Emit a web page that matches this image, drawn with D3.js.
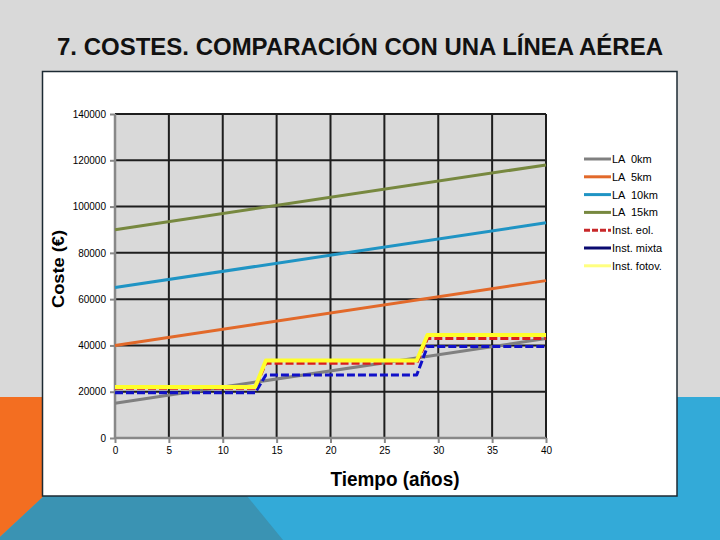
<!DOCTYPE html>
<html><head><meta charset="utf-8">
<script src="https://cdn.jsdelivr.net/npm/d3@7"></script>
<style>body{margin:0;background:#d9d9d9}svg{display:block}</style>
</head><body>
<svg id="c" width="720" height="540"></svg>
<script>
// ---- data ----
const laYears = [0, 40];
const la0km = [15000, 43000];
const la5km = [40000, 68000];
const la10km = [65000, 93000];
const la15km = [90000, 118000];
const instYears = [0, 13, 14, 28, 29, 40];
const instEol = [21500, 21500, 32300, 32300, 43000, 43000];
const instMixta = [19500, 19500, 27200, 27200, 39500, 39500];
const instFotov = [22000, 22000, 33500, 33500, 44500, 44500];
const xTicks = [0, 5, 10, 15, 20, 25, 30, 35, 40];
const yTicks = [0, 20000, 40000, 60000, 80000, 100000, 120000, 140000];
const seriesNames = ["LA  0km", "LA  5km", "LA  10km", "LA  15km", "Inst. eol.", "Inst. mixta", "Inst. fotov."];
const titleText = "7. COSTES. COMPARACIÓN CON UNA LÍNEA AÉREA";
const xTitle = "Tiempo (años)";
const yTitle = "Coste (€)";

const series = [
  {name: seriesNames[0], xs: laYears, ys: la0km, color: "#808080", w: 3, dash: null, lc: "#808080", ldash: null},
  {name: seriesNames[1], xs: laYears, ys: la5km, color: "#e2692a", w: 3, dash: null, lc: "#e2692a", ldash: null},
  {name: seriesNames[2], xs: laYears, ys: la10km, color: "#1f94c4", w: 3, dash: null, lc: "#1f94c4", ldash: null},
  {name: seriesNames[3], xs: laYears, ys: la15km, color: "#77883f", w: 3, dash: null, lc: "#77883f", ldash: null},
  {name: seriesNames[4], xs: instYears, ys: instEol, color: "#d91e1e", w: 3, dash: "8,3", lc: "#c8282a", ldash: "6,2"},
  {name: seriesNames[5], xs: instYears, ys: instMixta, color: "#1010c8", w: 3, dash: "8,3", lc: "#0a0a70", ldash: null},
  {name: seriesNames[6], xs: instYears, ys: instFotov, color: "#ffff2a", w: 4, dash: null, lc: "#ffff80", ldash: null}
];

const svg = d3.select("#c");
// ---- slide background ----
svg.append("rect").attr("x",0).attr("y",0).attr("width",720).attr("height",540).attr("fill","#d9d9d9");
svg.append("rect").attr("x",0).attr("y",397).attr("width",720).attr("height",143).attr("fill","#33aad8");
svg.append("polygon").attr("points","0,397 44,397 44,496 0,537").attr("fill","#f36e21");
svg.append("polygon").attr("points","44,496 247,496 283,540 0,540 0,537").attr("fill","#3a93b3");

// title
svg.append("text").attr("x",360).attr("y",55).attr("text-anchor","middle")
  .attr("font-family","'Liberation Sans Narrow','Arial Narrow',sans-serif").attr("font-size",23)
  .attr("font-weight","bold").attr("fill","#111")
  .attr("textLength",606).attr("lengthAdjust","spacingAndGlyphs").text(titleText);

// chart box
svg.append("rect").attr("x",42.5).attr("y",71.5).attr("width",634.5).attr("height",424.5)
  .attr("fill","#fff").attr("stroke","#1c2a33").attr("stroke-width",1.5);

const x = d3.scaleLinear().domain([0,40]).range([115,546]);
const y = d3.scaleLinear().domain([0,140000]).range([438,114]);

// plot area
svg.append("rect").attr("x",x(0)).attr("y",y(140000)).attr("width",x(40)-x(0)).attr("height",y(0)-y(140000)).attr("fill","#d9d9d9");

// grid
const g = svg.append("g");
g.selectAll(".hg").data(yTicks.filter(d=>d>0)).join("line")
  .attr("x1",x(0)).attr("x2",x(40)).attr("y1",d=>y(d)).attr("y2",d=>y(d))
  .attr("stroke","#1e1e1e").attr("stroke-width",2);
g.selectAll(".vg").data(xTicks.filter(d=>d>0)).join("line")
  .attr("y1",y(0)).attr("y2",y(140000)).attr("x1",d=>x(d)).attr("x2",d=>x(d))
  .attr("stroke","#1e1e1e").attr("stroke-width",2);

// axes
const yAxis = svg.append("g").attr("transform",`translate(${x(0)},0)`)
  .call(d3.axisLeft(y).tickValues(yTicks).tickSize(5).tickPadding(4).tickFormat(d3.format("d")));
const xAxis = svg.append("g").attr("transform",`translate(0,${y(0)})`)
  .call(d3.axisBottom(x).tickValues(xTicks).tickSize(5).tickPadding(4).tickFormat(d3.format("d")));
[yAxis,xAxis].forEach(a=>{
  a.select(".domain").attr("stroke","#888").attr("stroke-width",2.5);
  a.selectAll(".tick line").attr("stroke","#888").attr("stroke-width",2);
  a.selectAll(".tick text").attr("font-family","'Liberation Sans',Arial,sans-serif").attr("font-size",10).attr("fill","#000");
});
yAxis.select(".domain").attr("d",`M0,${y(0)}V${y(140000)}`);
xAxis.select(".domain").attr("d",`M${x(0)},0H${x(40)}`);

// series lines
const line = d3.line();
series.forEach(s=>{
  const pts = s.xs.map((v,i)=>[x(v), y(s.ys[i])]);
  const p = svg.append("path").attr("d",line(pts)).attr("fill","none")
    .attr("stroke",s.color).attr("stroke-width",s.w).attr("stroke-linejoin","round");
  if (s.dash) p.attr("stroke-dasharray",s.dash);
});

// legend
const lg = svg.append("g");
series.forEach((s,i)=>{
  const yy = 159 + i*17.8;
  const l = lg.append("line").attr("x1",584).attr("x2",611).attr("y1",yy).attr("y2",yy)
    .attr("stroke",s.lc).attr("stroke-width",3);
  if (s.ldash) l.attr("stroke-dasharray",s.ldash);
  lg.append("text").attr("x",612).attr("y",yy+4).attr("font-family","'Liberation Sans',Arial,sans-serif")
    .attr("font-size",11).attr("fill","#000").style("white-space","pre").text(s.name);
});

// axis titles
svg.append("text").attr("x",395).attr("y",486).attr("text-anchor","middle")
  .attr("font-family","'Liberation Sans Narrow','Arial Narrow',sans-serif").attr("font-weight","bold")
  .attr("font-size",20).attr("textLength",129).attr("lengthAdjust","spacingAndGlyphs").text(xTitle);
svg.append("text").attr("transform","translate(64,269) rotate(-90)").attr("text-anchor","middle")
  .attr("font-family","'Liberation Sans',Arial,sans-serif").attr("font-weight","bold")
  .attr("font-size",16).attr("textLength",78).attr("lengthAdjust","spacingAndGlyphs").text(yTitle);
</script>
</body></html>
